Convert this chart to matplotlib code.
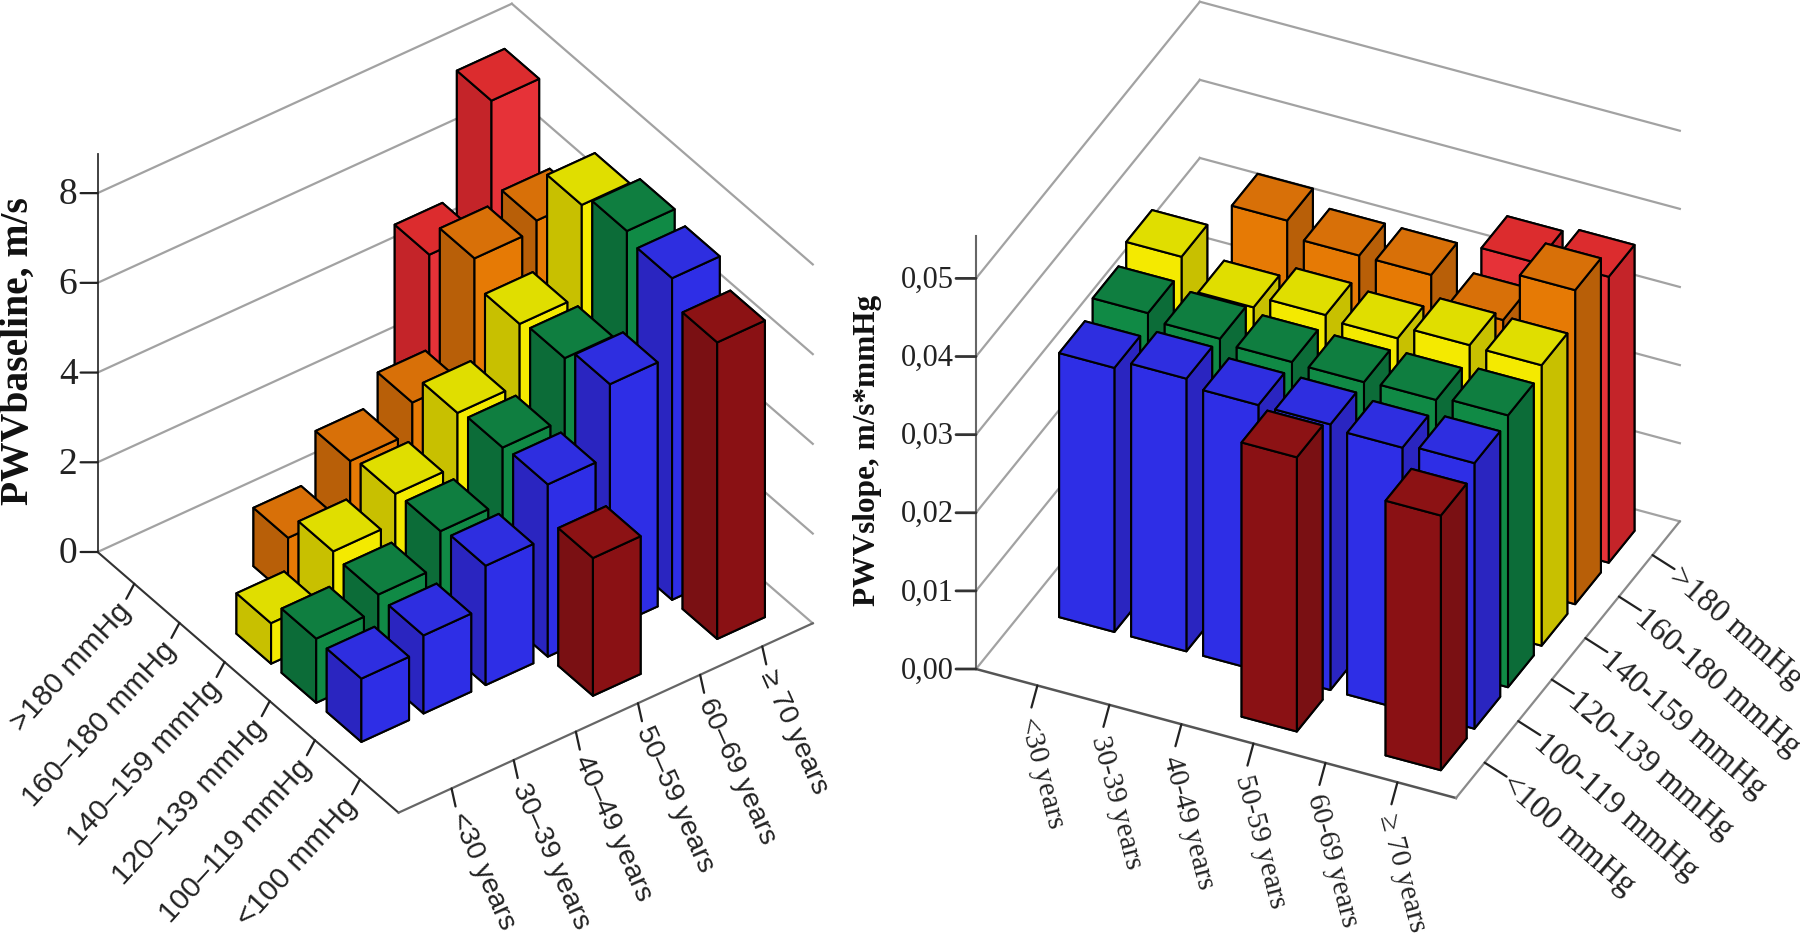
import numpy as np
import matplotlib
matplotlib.use('Agg')
import matplotlib.pyplot as plt
from mpl_toolkits.mplot3d import proj3d

W, H = 1800, 939
nan = np.nan

# PWV baseline, m/s (one list per pressure group, age <30 to >=70)
base_lt100 = [nan, nan, nan, 3.07, nan, 6.61]
base_100 = [1.41, 1.74, 2.66, 3.84, 5.44, 7.17]
base_120 = [1.43, 1.78, 2.56, 3.79, 5.15, 7.35]
base_140 = [0.90, 1.87, 2.52, 3.69, 5.04, 7.06]
base_160 = [nan, 1.30, 2.38, 3.05, 5.63, 5.84]
base_gt180 = [nan, nan, nan, nan, 4.84, 7.64]

# PWV slope, m/s*mmHg
slope_lt100 = [nan, nan, nan, 0.0351, nan, 0.0326]
slope_100 = [0.0338, 0.0349, 0.0340, 0.0340, 0.0335, 0.0340]
slope_120 = [0.0355, 0.0347, 0.0342, 0.0341, 0.0343, 0.0348]
slope_140 = [0.0374, 0.0334, 0.0349, 0.0344, 0.0360, 0.0359]
slope_160 = [nan, 0.0392, 0.0372, 0.0372, 0.0339, 0.0402]
slope_gt180 = [nan, nan, nan, nan, 0.0359, 0.0366]

age_left = ['<30 years', '30\u201339 years', '40\u201349 years', '50\u201359 years', '60\u201369 years', '\u2265 70 years']
bp_left = ['<100 mmHg', '100\u2013119 mmHg', '120\u2013139 mmHg', '140\u2013159 mmHg', '160\u2013180 mmHg', '>180 mmHg']
age_right = ['<30 years', '30-39 years', '40-49 years', '50-59 years', '60-69 years', '\u2265 70 years']
bp_right = ['<100 mmHg', '100-119 mmHg', '120-139 mmHg', '140-159 mmHg', '160-180 mmHg', '>180 mmHg']
base_ticks = [0, 2, 4, 6, 8]
slope_ticks = [0.0, 0.01, 0.02, 0.03, 0.04, 0.05]

# top, bright side, dark side
palette = [('#8c1214', '#8a1114', '#7a1013'),
           ('#2e2ee0', '#2e2ee6', '#2a25c0'),
           ('#0f7e40', '#108a45', '#0c6c38'),
           ('#e0de00', '#f4ea00', '#c8c000'),
           ('#d87008', '#e67a05', '#b85f08'),
           ('#dc2c2e', '#e63238', '#c42429')]

XLIM = (-0.853, 5.813)
BAR = 0.767


def to_fig(x, y):
    return x / W, 1 - y / H


def place_axes(ax, p0, t0, p1, t1):
    # move the 3D axes so two floor corners land on given pixels
    fig.canvas.draw()
    M = ax.get_proj()
    a = proj3d.proj_transform(*p0, M)[:2]
    b = proj3d.proj_transform(*p1, M)[:2]
    da, db = ax.transData.transform([a, b])
    s = np.hypot(t1[0] - t0[0], t1[1] - t0[1]) / np.hypot(*(db - da))
    box = ax.get_window_extent()
    u = (da[0] - box.x0) / box.width
    v = (da[1] - box.y0) / box.height
    w = box.width * s
    x0 = t0[0] - u * w
    y0 = (H - t0[1]) - v * w
    ax.set_position([x0 / W, y0 / H, w / W, w / H])


def pt(ax, x, y, z):
    return proj3d.proj_transform(x, y, z, ax.get_proj())[:2]


def seg(ax, p, q, color, lw=1.6, zo=1):
    ax.plot([p[0], q[0]], [p[1], q[1]], [p[2], q[2]], color=color, lw=lw, zorder=zo)


def tick(ax, p, off, color='#222222', lw=1.6):
    ax.annotate('', xy=pt(ax, *p), xytext=off, textcoords='offset pixels',
                arrowprops=dict(arrowstyle='-', color=color, lw=lw, shrinkA=0, shrinkB=0),
                annotation_clip=False)


def label(ax, p, off, s, rot, ha, font, size, color='#222222'):
    ax.annotate(s, xy=pt(ax, *p), xytext=off, textcoords='offset pixels', rotation=rot,
                rotation_mode='anchor', ha=ha, va='center', family=font, fontsize=size,
                color=color, annotation_clip=False)


def bars(ax, rows, x_order):
    zo = 10
    for j in range(5, -1, -1):
        for i in x_order:
            h = rows[j][i]
            if np.isnan(h):
                continue
            top, bright, dark = palette[j]
            cols = [dark, top, bright, bright, dark, dark]
            ax.bar3d([i - BAR / 2], [j - BAR / 2], [0], BAR, BAR, [h], color=cols,
                     shade=False, edgecolor='black', linewidth=1.5, zorder=zo)
            zo += 1


def make_axes(elev, azim, zmax):
    ax = fig.add_axes([0.1, 0.1, 0.5, 0.5 * W / H], projection='3d', proj_type='ortho')
    ax.computed_zorder = False
    ax.set_axis_off()
    ax.patch.set_alpha(0)
    ax.view_init(elev=elev, azim=azim)
    ax.set_xlim(*XLIM)
    ax.set_ylim(*XLIM)
    ax.set_zlim(0, zmax)
    ax.set_box_aspect((1, 1, 1))
    return ax


fig = plt.figure(figsize=(W / 100, H / 100), dpi=100, facecolor='white')
x0, x1 = XLIM
y0, y1 = XLIM
gray = '#a2a2a2'

# left chart
zmax_l = 8.87
ax1 = make_axes(39.0, -126.0, zmax_l)
place_axes(ax1, (x0, y1, 0), (97.6, 552), (x1, y1, 0), (512, 363))
for z in base_ticks:
    seg(ax1, (x0, y1, z), (x1, y1, z), gray)
    seg(ax1, (x1, y1, z), (x1, y0, z), gray)
    tick(ax1, (x0, y1, z), (-17, 0), lw=1.6)
    label(ax1, (x0, y1, z), (-20, -2), str(z), 0, 'right', 'Liberation Serif', 27)
seg(ax1, (x0, y1, 0), (x0, y1, zmax_l), '#333333', 1.3, 2)
seg(ax1, (x0, y1, 0), (x0, y0, 0), '#333333', 1.5, 2)
seg(ax1, (x0, y0, 0), (x1, y0, 0), '#666666', 1.6, 2)
for i, s in enumerate(age_left):
    tick(ax1, (i, y0, 0), (4, -18))
    label(ax1, (i, y0, 0), (5, -25), s, -66, 'left', 'Liberation Sans', 20.5)
for j, s in enumerate(bp_left):
    tick(ax1, (x0, j, 0), (-8, -15))
    label(ax1, (x0, j, 0), (-8, -23), s, 47.5, 'right', 'Liberation Sans', 21.5)
bars(ax1, [base_lt100, base_100, base_120, base_140, base_160, base_gt180], range(5, -1, -1))

# right chart
zmax_r = 0.0554
ax2 = make_axes(35.2, -65.0, zmax_r)
place_axes(ax2, (x0, y0, 0), (976, 669), (x1, y0, 0), (1456, 798))
for z in slope_ticks:
    seg(ax2, (x0, y0, z), (x0, y1, z), gray)
    seg(ax2, (x0, y1, z), (x1, y1, z), gray)
    tick(ax2, (x0, y0, z), (-20, 0), lw=2.0, color='#333333')
    label(ax2, (x0, y0, z), (-22, -2), f'{z:.2f}'.replace('.', ','), 0, 'right', 'Liberation Serif', 22)
seg(ax2, (x0, y0, 0), (x0, y0, zmax_r), '#666666', 1.5, 2)
seg(ax2, (x0, y0, 0), (x1, y0, 0), '#555555', 1.8, 2)
seg(ax2, (x1, y0, 0), (x1, y1, 0), '#8a8a8a', 1.6, 2)
for i, s in enumerate(age_right):
    tick(ax2, (i, y0, 0), (-6, -22))
    label(ax2, (i, y0, 0), (-11, -32), s, -75, 'left', 'Liberation Serif', 21)
for j, s in enumerate(bp_right):
    tick(ax2, (x1, j, 0), (22, -14))
    label(ax2, (x1, j, 0), (20, -18), s, -41, 'left', 'Liberation Serif', 23.5)
bars(ax2, [slope_lt100, slope_100, slope_120, slope_140, slope_160, slope_gt180], range(6))

fig.text(*to_fig(18, 351), 'PWVbaseline, m/s', rotation=90, ha='center', va='center',
         family='Liberation Serif', weight='bold', fontsize=28.5, color='#111111')
fig.text(*to_fig(867, 450), 'PWVslope, m/s*mmHg', rotation=90, ha='center', va='center',
         family='Liberation Serif', weight='bold', fontsize=22.5, color='#111111')

fig.savefig('out.png', dpi=100)
